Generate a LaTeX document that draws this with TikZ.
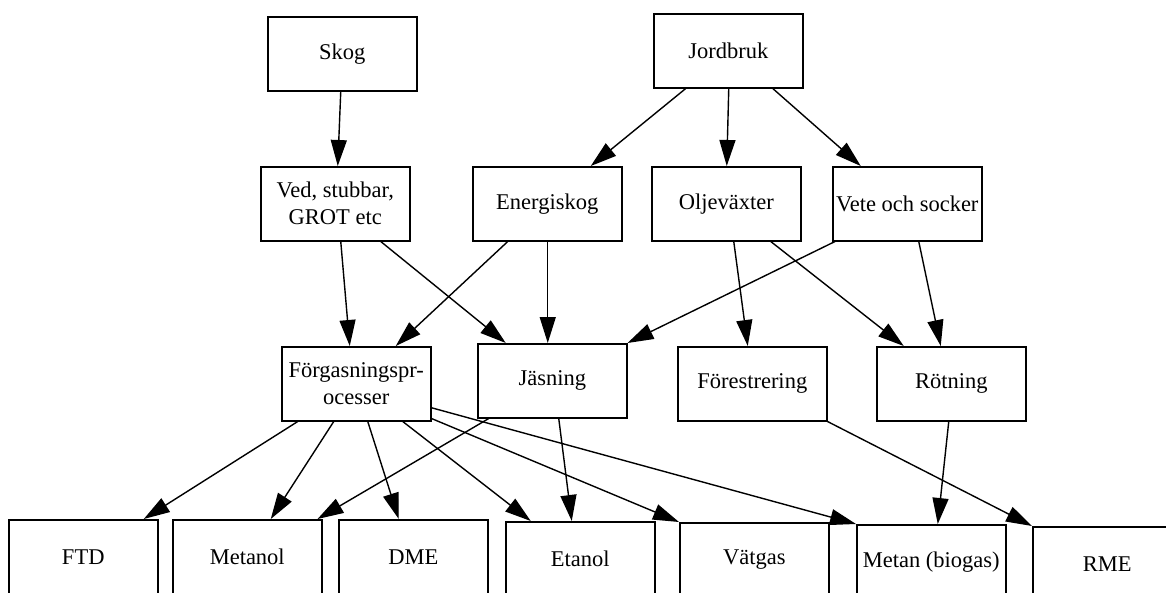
\documentclass[tikz,border=0pt]{standalone}
\usepackage{fontspec}
\setmainfont{Liberation Serif}
\usetikzlibrary{arrows.meta}
\tikzset{
  box/.style={draw=black, line width=1.5pt, fill=white, minimum width=149pt, minimum height=74pt,
    inner sep=0pt, align=center, font=\fontsize{22.5}{27}\selectfont, anchor=north west},
  arr/.style={draw=black, line width=1.4pt, -{Triangle[length=26pt,width=16pt]}}
}
\begin{document}
\begin{tikzpicture}[x=1pt,y=-1pt]
\useasboundingbox (0,0) rectangle (1166,592);
\clip (0,0) rectangle (1166,592);
\fill[white] (0,0) rectangle (1166,592);
% top
\node[box] (skog) at (267,16) {Skog};
\node[box] (jord) at (653,13) {Jordbruk};
% second row
\node[box] (ved) at (260,166) {Ved, stubbar,\\GROT etc};
\node[box] (energi) at (472,166) {Energiskog};
\node[box] (olje) at (651,166) {Oljeväxter};
\node[box] (vete) at (832,166) {Vete och socker};
% third row
\node[box] (forg) at (281,346) {Förgasningspr-\\ocesser};
\node[box] (jas) at (477,343) {Jäsning};
\node[box] (fore) at (677,346) {Förestrering};
\node[box] (rot) at (876,346) {Rötning};
% bottom row
\node[box] (ftd) at (8,519) {FTD};
\node[box] (met) at (172,519) {Metanol};
\node[box] (dme) at (338,519) {DME};
\node[box] (eta) at (505,521) {Etanol};
\node[box] (vat) at (679,522) {Vätgas};
\node[box] (metan) at (856,524) {Metan (biogas)};
\node[box, minimum width=160pt] (rme) at (1032,526) {\hspace*{-11pt}RME};
% edges
\draw[arr] ([xshift=-1.5pt]skog.south) -- ([xshift=2.5pt]ved.north);
\draw[arr] ([xshift=-42.5pt]jord.south) -- ([xshift=43.5pt]energi.north);
\draw[arr] ([xshift=0.5pt]jord.south) -- ([xshift=0.5pt]olje.north);
\draw[arr] ([xshift=44.5pt]jord.south) -- ([xshift=-46.5pt]vete.north);
\draw[arr] ([xshift=5.5pt]ved.south) -- ([xshift=-6.5pt]forg.north);
\draw[arr] ([xshift=45.5pt]ved.south) -- ([xshift=-46.5pt]jas.north);
\draw[arr] ([xshift=-39.5pt]energi.south) -- ([xshift=39.5pt]forg.north);
\draw[arr] ([xshift=0.5pt]energi.south) -- ([xshift=-4.5pt]jas.north);
\draw[arr] ([xshift=3pt]vete.south west) -- (jas.north east);
\draw[arr] ([xshift=7.5pt]olje.south) -- ([xshift=-4.5pt]fore.north);
\draw[arr] ([xshift=44.5pt]olje.south) -- ([xshift=-47.5pt]rot.north);
\draw[arr] ([xshift=11.5pt]vete.south) -- ([xshift=-10.5pt]rot.north);
\draw[arr] ([xshift=-58.5pt]forg.south) -- ([xshift=60.5pt]ftd.north);
\draw[arr] ([xshift=-22.5pt]forg.south) -- ([xshift=23.5pt]met.north);
\draw[arr] ([xshift=11.5pt]forg.south) -- ([xshift=-14.5pt]dme.north);
\draw[arr] ([xshift=46.5pt]forg.south) -- ([xshift=-49.5pt]eta.north);
\draw[arr] ([yshift=3pt]forg.south east) -- (vat.north west);
\draw[arr] ([yshift=-24pt]forg.east) -- (metan.north west);
\draw[arr] ([xshift=-63.5pt]jas.south) -- ([xshift=-5pt]met.north east);
\draw[arr] ([xshift=6.5pt]jas.south) -- ([xshift=-8.5pt]eta.north);
\draw[arr] (fore.south east) -- (rme.north west);
\draw[arr] ([xshift=-2.5pt]rot.south) -- ([xshift=6.5pt]metan.north);
\end{tikzpicture}
\end{document}
